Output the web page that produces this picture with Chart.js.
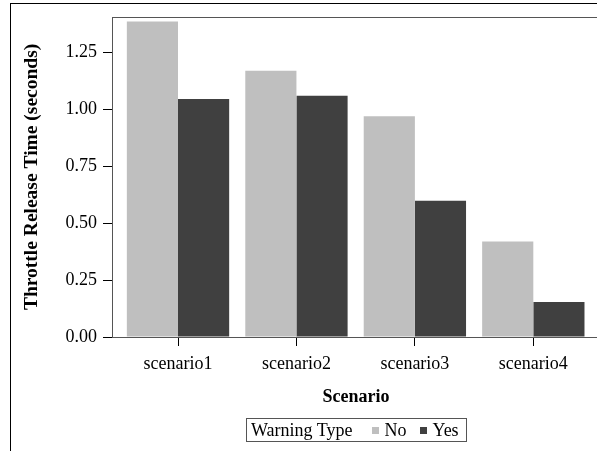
<!DOCTYPE html>
<html>
<head>
<meta charset="utf-8">
<script src="https://cdn.jsdelivr.net/npm/chart.js@4/dist/chart.umd.min.js"></script>
<style>
  html, body { margin: 0; padding: 0; background: #fff; overflow: hidden; }
  #wrap { position: relative; width: 597px; height: 451px; overflow: hidden; }
  #outer { position: absolute; left: 10px; top: 3px; width: 700px; height: 600px;
           border-left: 1px solid #000; border-top: 1px solid #000; }
  #chart { position: absolute; left: 0; top: 0; }
  #legend { position: absolute; left: 246px; top: 418px; width: 219px; height: 22px;
            border: 1px solid #555; display: flex; align-items: center;
            font: 18px "Liberation Serif", "Times New Roman", serif; color: #000;
            line-height: 22px; white-space: nowrap; }
  #legend span { flex-shrink: 0; }
  #legend .ttl { margin-left: 4px; margin-right: 20px; }
  #legend .sw { display: inline-block; width: 7px; height: 7px; margin-right: 5px; }
  #legend .lbl { margin-right: 14px; }
</style>
</head>
<body>
<div id="wrap">
  <div id="outer"></div>
  <canvas id="chart" width="600" height="451"></canvas>
  <div id="legend"></div>
</div>
<script>
// values
const categories = ['scenario1', 'scenario2', 'scenario3', 'scenario4'];
const noTimes = [1.386, 1.170, 0.970, 0.419];
const yesTimes = [1.045, 1.060, 0.599, 0.154];
const yTicks = [0, 0.25, 0.5, 0.75, 1.0, 1.25];
const seriesLabels = ['No', 'Yes'];
const seriesColors = ['#bfbfbf', '#404040'];
const legendTitle = 'Warning Type';

const SERIF = '"Liberation Serif", "Times New Roman", serif';

// the reference frames the plot on all sides
const framePlugin = {
    id: 'frame',
    afterDraw(chart) {
        const { ctx, chartArea: a } = chart;
        ctx.save();
        ctx.strokeStyle = '#555';
        ctx.lineWidth = 1;
        ctx.strokeRect(Math.round(a.left) + 0.5, Math.round(a.top) + 0.5,
                       Math.round(a.right - a.left), Math.round(a.bottom - a.top));
        ctx.restore();
    }
};

const datasets = [noTimes, yesTimes].map((vals, k) => ({
    label: seriesLabels[k],
    data: vals.map((v, i) => ({ x: i + 1, y: v })),
    backgroundColor: seriesColors[k],
    borderWidth: 0,
    categoryPercentage: 0.864,
    barPercentage: 1.0
}));

new Chart(document.getElementById('chart'), {
    type: 'bar',
    data: { datasets },
    plugins: [framePlugin],
    options: {
        responsive: false,
        animation: false,
        layout: { padding: { top: 13.5, right: 0, bottom: 0, left: 0 } },
        plugins: { legend: { display: false }, tooltip: { enabled: false } },
        scales: {
            x: {
                type: 'linear',
                offset: false,
                min: 0.4427,
                max: 4.563,
                afterFit: s => { s.height = 114; },
                afterBuildTicks: s => { s.ticks = categories.map((c, i) => ({ value: i + 1 })); },
                border: { display: false },
                grid: { offset: false, drawOnChartArea: false, drawTicks: true, tickLength: 9, color: '#000' },
                ticks: {
                    padding: 7,
                    color: '#000',
                    font: { family: SERIF, size: 18 },
                    maxRotation: 0,
                    autoSkip: false,
                    callback: v => categories[v - 1]
                },
                title: {
                    display: true,
                    text: 'Scenario',
                    color: '#000',
                    font: { family: SERIF, size: 18, weight: 'bold' },
                    padding: { top: 0, bottom: 43 }
                }
            },
            y: {
                min: 0,
                max: 1.4065,
                afterFit: s => { s.width = 112; },
                afterBuildTicks: s => { s.ticks = yTicks.map(v => ({ value: v })); },
                border: { display: false },
                grid: { drawOnChartArea: false, drawTicks: true, tickLength: 9, color: '#000' },
                ticks: {
                    padding: 6,
                    color: '#000',
                    font: { family: SERIF, size: 18 },
                    callback: v => v.toFixed(2)
                },
                title: {
                    display: true,
                    text: 'Throttle Release Time (seconds)',
                    color: '#000',
                    font: { family: SERIF, size: 19.5, weight: 'bold' },
                    padding: { top: 20, bottom: 0 }
                }
            }
        }
    }
});

// legend box below the axis title, built from the series arrays
const legend = document.getElementById('legend');
let html = '<span class="ttl">' + legendTitle + '</span>';
seriesLabels.forEach((lbl, k) => {
    html += '<span class="sw" style="background:' + seriesColors[k] + '"></span>' +
            '<span class="lbl">' + lbl + '</span>';
});
legend.innerHTML = html;
</script>
</body>
</html>
